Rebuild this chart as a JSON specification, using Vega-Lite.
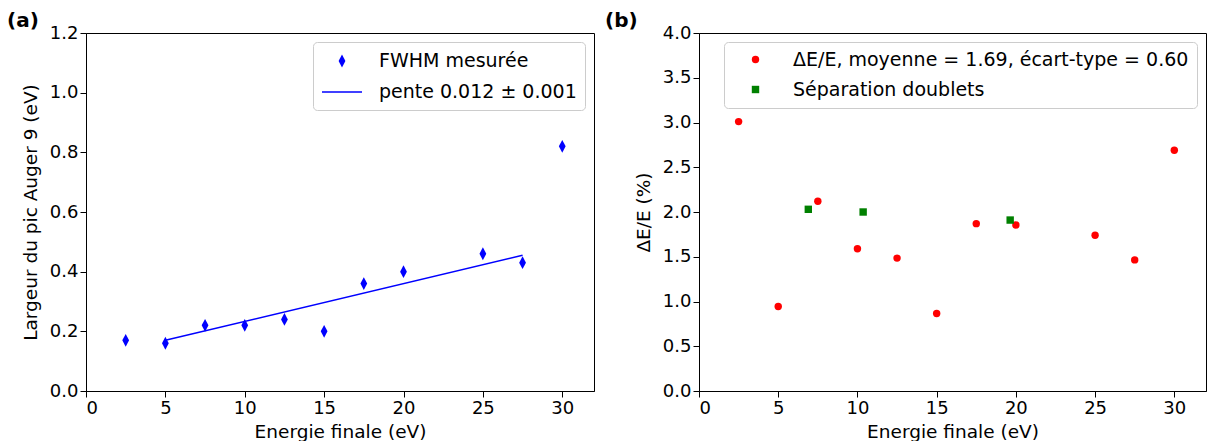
{
  "$schema": "https://vega.github.io/schema/vega-lite/v6.json",
  "padding": {"left": 6, "top": 10, "right": 0, "bottom": 0},
  "spacing": 9,
  "config": {
    "font": "DejaVu Sans",
    "view": {"stroke": "black", "strokeWidth": 1},
    "axis": {"grid": false, "domainColor": "black", "tickColor": "black", "labelColor": "black", "titleColor": "black", "labelFontSize": 18, "titleFontSize": 18.5, "titleFontWeight": "normal", "tickSize": 6, "labelPadding": 2, "labelFont": "DejaVu Sans", "titleFont": "DejaVu Sans"},
    "axisX": {"titlePadding": 5},
    "axisY": {"titlePadding": 9},
    "legend": {"orient": "top-right", "offset": 9, "labelFontSize": 19, "labelFont": "DejaVu Sans", "labelColor": "black", "strokeColor": "#cccccc", "fillColor": "white", "cornerRadius": 4, "padding": 8, "rowPadding": 10, "labelLimit": 600},
    "title": {"fontSize": 20, "fontWeight": "bold", "font": "DejaVu Sans", "anchor": "start", "color": "black"}
  },
  "datasets": {
    "fwhm": [
      {"energie": 2.5, "valeur": 0.17, "serie_a": "FWHM mesurée"},
      {"energie": 5, "valeur": 0.16, "serie_a": "FWHM mesurée"},
      {"energie": 7.5, "valeur": 0.22, "serie_a": "FWHM mesurée"},
      {"energie": 10, "valeur": 0.22, "serie_a": "FWHM mesurée"},
      {"energie": 12.5, "valeur": 0.24, "serie_a": "FWHM mesurée"},
      {"energie": 15, "valeur": 0.20, "serie_a": "FWHM mesurée"},
      {"energie": 17.5, "valeur": 0.36, "serie_a": "FWHM mesurée"},
      {"energie": 20, "valeur": 0.40, "serie_a": "FWHM mesurée"},
      {"energie": 25, "valeur": 0.46, "serie_a": "FWHM mesurée"},
      {"energie": 27.5, "valeur": 0.43, "serie_a": "FWHM mesurée"},
      {"energie": 30, "valeur": 0.82, "serie_a": "FWHM mesurée"}
    ],
    "fit": [
      {"energie": 5, "valeur": 0.170},
      {"energie": 27.5, "valeur": 0.455}
    ],
    "resolution": [
      {"energie": 2.5, "valeur": 3.01, "serie_b": "ΔE/E, moyenne = 1.69, écart-type = 0.60"},
      {"energie": 5, "valeur": 0.945, "serie_b": "ΔE/E, moyenne = 1.69, écart-type = 0.60"},
      {"energie": 7.5, "valeur": 2.12, "serie_b": "ΔE/E, moyenne = 1.69, écart-type = 0.60"},
      {"energie": 10, "valeur": 1.59, "serie_b": "ΔE/E, moyenne = 1.69, écart-type = 0.60"},
      {"energie": 12.5, "valeur": 1.485, "serie_b": "ΔE/E, moyenne = 1.69, écart-type = 0.60"},
      {"energie": 15, "valeur": 0.865, "serie_b": "ΔE/E, moyenne = 1.69, écart-type = 0.60"},
      {"energie": 17.5, "valeur": 1.87, "serie_b": "ΔE/E, moyenne = 1.69, écart-type = 0.60"},
      {"energie": 20, "valeur": 1.855, "serie_b": "ΔE/E, moyenne = 1.69, écart-type = 0.60"},
      {"energie": 25, "valeur": 1.74, "serie_b": "ΔE/E, moyenne = 1.69, écart-type = 0.60"},
      {"energie": 27.5, "valeur": 1.465, "serie_b": "ΔE/E, moyenne = 1.69, écart-type = 0.60"},
      {"energie": 30, "valeur": 2.69, "serie_b": "ΔE/E, moyenne = 1.69, écart-type = 0.60"},
      {"energie": 6.9, "valeur": 2.03, "serie_b": "Séparation doublets"},
      {"energie": 10.36, "valeur": 2.0, "serie_b": "Séparation doublets"},
      {"energie": 19.64, "valeur": 1.91, "serie_b": "Séparation doublets"}
    ]
  },
  "resolve": {"scale": {"color": "independent", "shape": "independent"}, "legend": {"color": "independent", "shape": "independent"}},
  "hconcat": [
    {
      "width": 508,
      "height": 358,
      "title": {"text": "(a)", "frame": "group", "dx": -79, "offset": -7},
      "layer": [
        {
          "data": {"name": "fit"},
          "mark": {"type": "line", "color": "blue", "strokeWidth": 1.5},
          "encoding": {
            "x": {"field": "energie", "type": "quantitative", "scale": {"domain": [0, 32], "nice": false}, "axis": {"values": [0, 5, 10, 15, 20, 25, 30], "title": "Energie finale (eV)"}},
            "y": {"field": "valeur", "type": "quantitative", "scale": {"domain": [0, 1.2], "nice": false}, "axis": {"values": [0, 0.2, 0.4, 0.6, 0.8, 1.0, 1.2], "format": ".1f", "title": "Largeur du pic Auger 9 (eV)"}}
          }
        },
        {
          "data": {"name": "fwhm"},
          "mark": {"type": "point", "filled": true, "size": 400, "opacity": 1},
          "encoding": {
            "x": {"field": "energie", "type": "quantitative"},
            "y": {"field": "valeur", "type": "quantitative"},
            "shape": {"field": "serie_a", "type": "nominal", "scale": {"domain": ["FWHM mesurée", "pente 0.012 ± 0.001"], "range": ["M0,-0.64L0.34,0L0,0.64L-0.34,0Z", "M-2,-0.08L2,-0.08L2,0.08L-2,0.08Z"]}, "legend": {"title": null, "symbolSize": 400, "symbolOffset": 10, "labelOffset": 26}},
            "color": {"field": "serie_a", "type": "nominal", "scale": {"domain": ["FWHM mesurée", "pente 0.012 ± 0.001"], "range": ["blue", "blue"]}, "legend": {"title": null, "symbolSize": 400, "symbolOffset": 10, "labelOffset": 26}}
          }
        }
      ]
    },
    {
      "width": 507,
      "height": 358,
      "title": {"text": "(b)", "frame": "group", "dx": -94, "offset": -7},
      "data": {"name": "resolution"},
      "mark": {"type": "point", "filled": true, "size": 55, "opacity": 1},
      "encoding": {
        "x": {"field": "energie", "type": "quantitative", "scale": {"domain": [0, 32], "nice": false}, "axis": {"values": [0, 5, 10, 15, 20, 25, 30], "title": "Energie finale (eV)"}},
        "y": {"field": "valeur", "type": "quantitative", "scale": {"domain": [0, 4], "nice": false}, "axis": {"values": [0, 0.5, 1, 1.5, 2, 2.5, 3, 3.5, 4], "format": ".1f", "title": "ΔE/E (%)"}},
        "shape": {"field": "serie_b", "type": "nominal", "scale": {"domain": ["ΔE/E, moyenne = 1.69, écart-type = 0.60", "Séparation doublets"], "range": ["circle", "square"]}, "legend": {"title": null, "symbolSize": 55, "symbolOffset": 14, "labelOffset": 28}},
        "color": {"field": "serie_b", "type": "nominal", "scale": {"domain": ["ΔE/E, moyenne = 1.69, écart-type = 0.60", "Séparation doublets"], "range": ["#ff0000", "#008000"]}, "legend": {"title": null, "symbolSize": 55, "symbolOffset": 14, "labelOffset": 28}}
      }
    }
  ]
}
